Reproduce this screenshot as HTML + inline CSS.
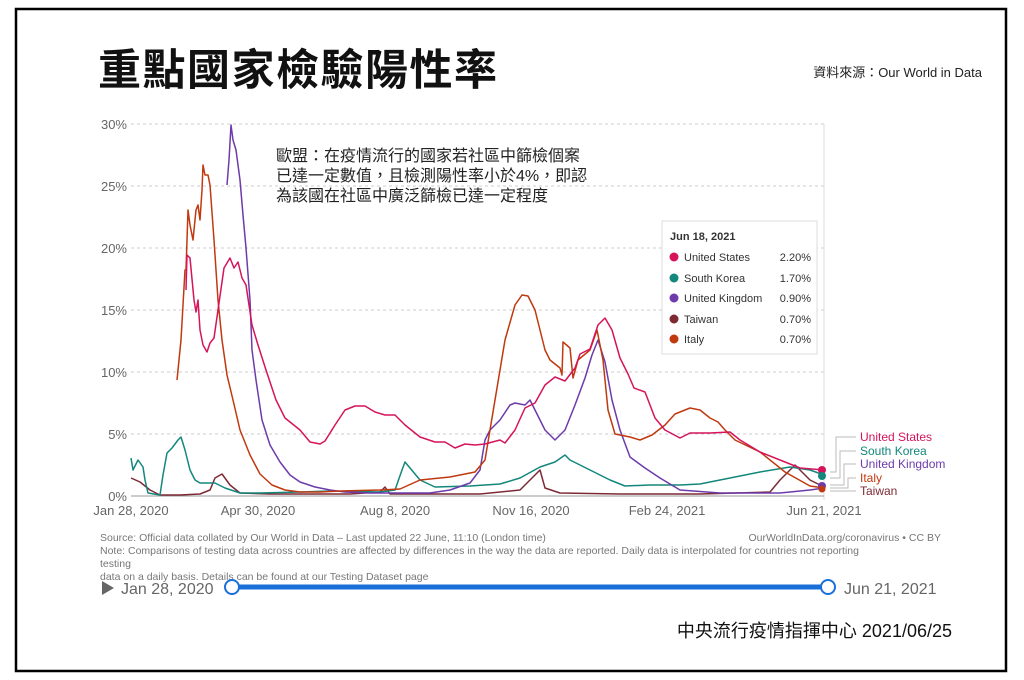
<!DOCTYPE html>
<html><head><meta charset="utf-8"><style>
body{margin:0;background:#fff;}
svg{display:block;font-family:"Liberation Sans","Noto Sans CJK TC",sans-serif;}
</style></head><body>
<svg width="1024" height="680" viewBox="0 0 1024 680" xmlns="http://www.w3.org/2000/svg">
<rect x="16" y="9" width="990" height="662" fill="#fff" stroke="#000" stroke-width="2.5"/>
<text x="98" y="85" font-size="43" font-weight="bold" fill="#111" letter-spacing="1.5">重點國家檢驗陽性率</text>
<text x="982" y="77" font-size="13" text-anchor="end" fill="#222">資料來源：Our World in Data</text>
<g stroke="#ccc" stroke-dasharray="3,3" stroke-width="1">
<line x1="131" y1="124" x2="824" y2="124"/><line x1="131" y1="186" x2="824" y2="186"/>
<line x1="131" y1="248" x2="824" y2="248"/><line x1="131" y1="310" x2="824" y2="310"/>
<line x1="131" y1="372" x2="824" y2="372"/><line x1="131" y1="434" x2="824" y2="434"/>
</g>
<line x1="824" y1="124" x2="824" y2="500" stroke="#ddd"/>
<line x1="131" y1="496" x2="824" y2="496" stroke="#999"/>
<g font-size="13" fill="#666" text-anchor="end">
<text x="127" y="129">30%</text><text x="127" y="191">25%</text><text x="127" y="253">20%</text>
<text x="127" y="315">15%</text><text x="127" y="377">10%</text><text x="127" y="439">5%</text><text x="127" y="501">0%</text>
</g>
<g font-size="13" fill="#666" text-anchor="middle">
<text x="131" y="515">Jan 28, 2020</text><text x="258" y="515">Apr 30, 2020</text><text x="395" y="515">Aug 8, 2020</text>
<text x="531" y="515">Nov 16, 2020</text><text x="667" y="515">Feb 24, 2021</text><text x="824" y="515">Jun 21, 2021</text>
</g>
<g fill="none" stroke-width="1.5" stroke-linejoin="round">
<polyline stroke="#7d2a35" points="131,478 140,482 150,490 160,495 180,495 200,494 210,490 215,478 222,474 230,485 240,493 270,494 350,494 380,492 385,487 390,494 430,494 480,494 520,490 535,475 540,470 545,488 560,493 620,494 700,494 770,492 780,480 795,465 810,480 824,487"/>
<polyline stroke="#13877c" points="131,458 133,470 138,460 143,467 145,480 148,493 160,495 163,475 167,453 172,448 178,440 181,437 185,450 190,470 195,480 200,483 215,483 225,488 240,493 260,493 300,492 330,491 380,492 395,490 402,470 405,462 410,468 420,480 435,487 470,486 500,484 520,478 540,467 555,462 565,455 570,460 590,470 610,480 625,486 650,485 680,485 700,484 720,480 760,472 790,467 810,470 824,475"/>
<polyline stroke="#6d3bab" points="227,185 229,160 231,125 233,140 236,150 240,180 243,215 246,248 250,300 252,350 256,380 262,420 270,445 280,462 290,475 300,482 315,487 330,490 345,492 370,493 400,493 430,493 450,490 470,483 480,470 485,440 490,430 500,420 510,405 515,403 525,405 530,400 535,410 545,430 555,440 565,430 575,405 585,378 592,355 598,340 605,362 612,400 620,430 630,457 645,468 660,478 680,490 720,493 780,493 810,490 824,488"/>
<polyline stroke="#c0390f" points="177,380 181,340 185,270 186,270 188,210 190,225 193,240 196,210 198,205 200,220 202,190 203,165 205,175 208,175 210,185 214,240 218,300 222,340 227,375 233,400 240,430 250,455 260,474 272,485 285,490 300,492 320,492 340,491 380,490 400,489 420,480 450,477 475,472 485,460 495,400 505,340 515,305 522,295 528,296 535,310 545,350 550,360 560,368 562,375 563,342 570,348 573,378 578,360 590,350 597,330 603,360 608,410 615,434 630,437 640,440 652,435 665,425 675,414 690,408 700,410 710,418 718,422 725,430 735,440 760,452 785,472 810,486 824,488"/>
<polyline stroke="#d5145a" points="186,290 187,255 190,258 194,300 196,312 198,300 200,330 203,345 207,352 210,343 214,338 218,310 224,268 230,258 234,268 238,262 242,278 246,285 252,325 258,345 266,370 276,400 285,418 295,426 300,430 310,442 320,444 325,441 335,425 345,410 355,406 365,406 375,412 385,415 395,415 405,425 420,437 435,442 445,442 455,448 465,444 475,445 485,444 500,440 505,443 515,430 525,408 535,403 545,385 555,377 565,381 575,368 580,354 590,349 598,325 605,318 612,330 620,358 628,374 634,388 645,392 655,418 665,430 680,438 690,433 710,433 730,432 740,440 760,452 780,460 800,468 824,470"/>
</g>
<circle cx="822" cy="470" r="4" fill="#d5145a"/><circle cx="822" cy="476" r="4" fill="#13877c"/>
<circle cx="822" cy="486" r="4" fill="#6d3bab"/><circle cx="822" cy="489" r="3.5" fill="#c0390f"/>
<g stroke="#bbb" fill="none"><polyline points="830,472 836,472 836,437 856,437"/><polyline points="830,478 840,478 840,451 856,451"/>
<polyline points="830,485 844,485 844,464 856,464"/><polyline points="830,488 848,488 848,478 856,478"/><polyline points="830,491 856,491"/></g>
<g font-size="12"><text x="860" y="441" fill="#d5145a">United States</text><text x="860" y="455" fill="#13877c">South Korea</text>
<text x="860" y="468" fill="#6d3bab">United Kingdom</text><text x="860" y="482" fill="#c0390f">Italy</text><text x="860" y="495" fill="#7d2a35">Taiwan</text></g>
<g font-size="16" fill="#222"><text x="276" y="161">歐盟：在疫情流行的國家若社區中篩檢個案</text>
<text x="276" y="181">已達一定數值，且檢測陽性率小於4%，即認</text><text x="276" y="201">為該國在社區中廣泛篩檢已達一定程度</text></g>
<rect x="662" y="221" width="155" height="133" fill="#fff" stroke="#ddd"/>
<g font-size="11" fill="#333"><text x="670" y="240" font-weight="bold">Jun 18, 2021</text>
<circle cx="674" cy="257" r="4.5" fill="#d5145a"/><text x="684" y="261">United States</text><text x="811" y="261" text-anchor="end">2.20%</text>
<circle cx="674" cy="278" r="4.5" fill="#13877c"/><text x="684" y="282">South Korea</text><text x="811" y="282" text-anchor="end">1.70%</text>
<circle cx="674" cy="298" r="4.5" fill="#6d3bab"/><text x="684" y="302">United Kingdom</text><text x="811" y="302" text-anchor="end">0.90%</text>
<circle cx="674" cy="319" r="4.5" fill="#7d2a35"/><text x="684" y="323">Taiwan</text><text x="811" y="323" text-anchor="end">0.70%</text>
<circle cx="674" cy="339" r="4.5" fill="#c0390f"/><text x="684" y="343">Italy</text><text x="811" y="343" text-anchor="end">0.70%</text></g>
<g font-size="10.5" fill="#777"><text x="100" y="541">Source: Official data collated by Our World in Data – Last updated 22 June, 11:10 (London time)</text>
<text x="941" y="541" text-anchor="end">OurWorldInData.org/coronavirus • CC BY</text>
<text x="100" y="554">Note: Comparisons of testing data across countries are affected by differences in the way the data are reported. Daily data is interpolated for countries not reporting</text>
<text x="100" y="567">testing</text><text x="100" y="580">data on a daily basis. Details can be found at our Testing Dataset page</text></g>
<polygon points="102,581 102,595 114,588" fill="#666"/>
<text x="121" y="594" font-size="16" fill="#666">Jan 28, 2020</text>
<line x1="232" y1="587" x2="828" y2="587" stroke="#1a6fd8" stroke-width="5"/>
<circle cx="232" cy="587" r="7" fill="#fff" stroke="#1a6fd8" stroke-width="2"/>
<circle cx="828" cy="587" r="7" fill="#fff" stroke="#1a6fd8" stroke-width="2"/>
<text x="844" y="594" font-size="16" fill="#666">Jun 21, 2021</text>
<text x="952" y="637" font-size="18" text-anchor="end" fill="#111">中央流行疫情指揮中心 2021/06/25</text>
</svg>
</body></html>
